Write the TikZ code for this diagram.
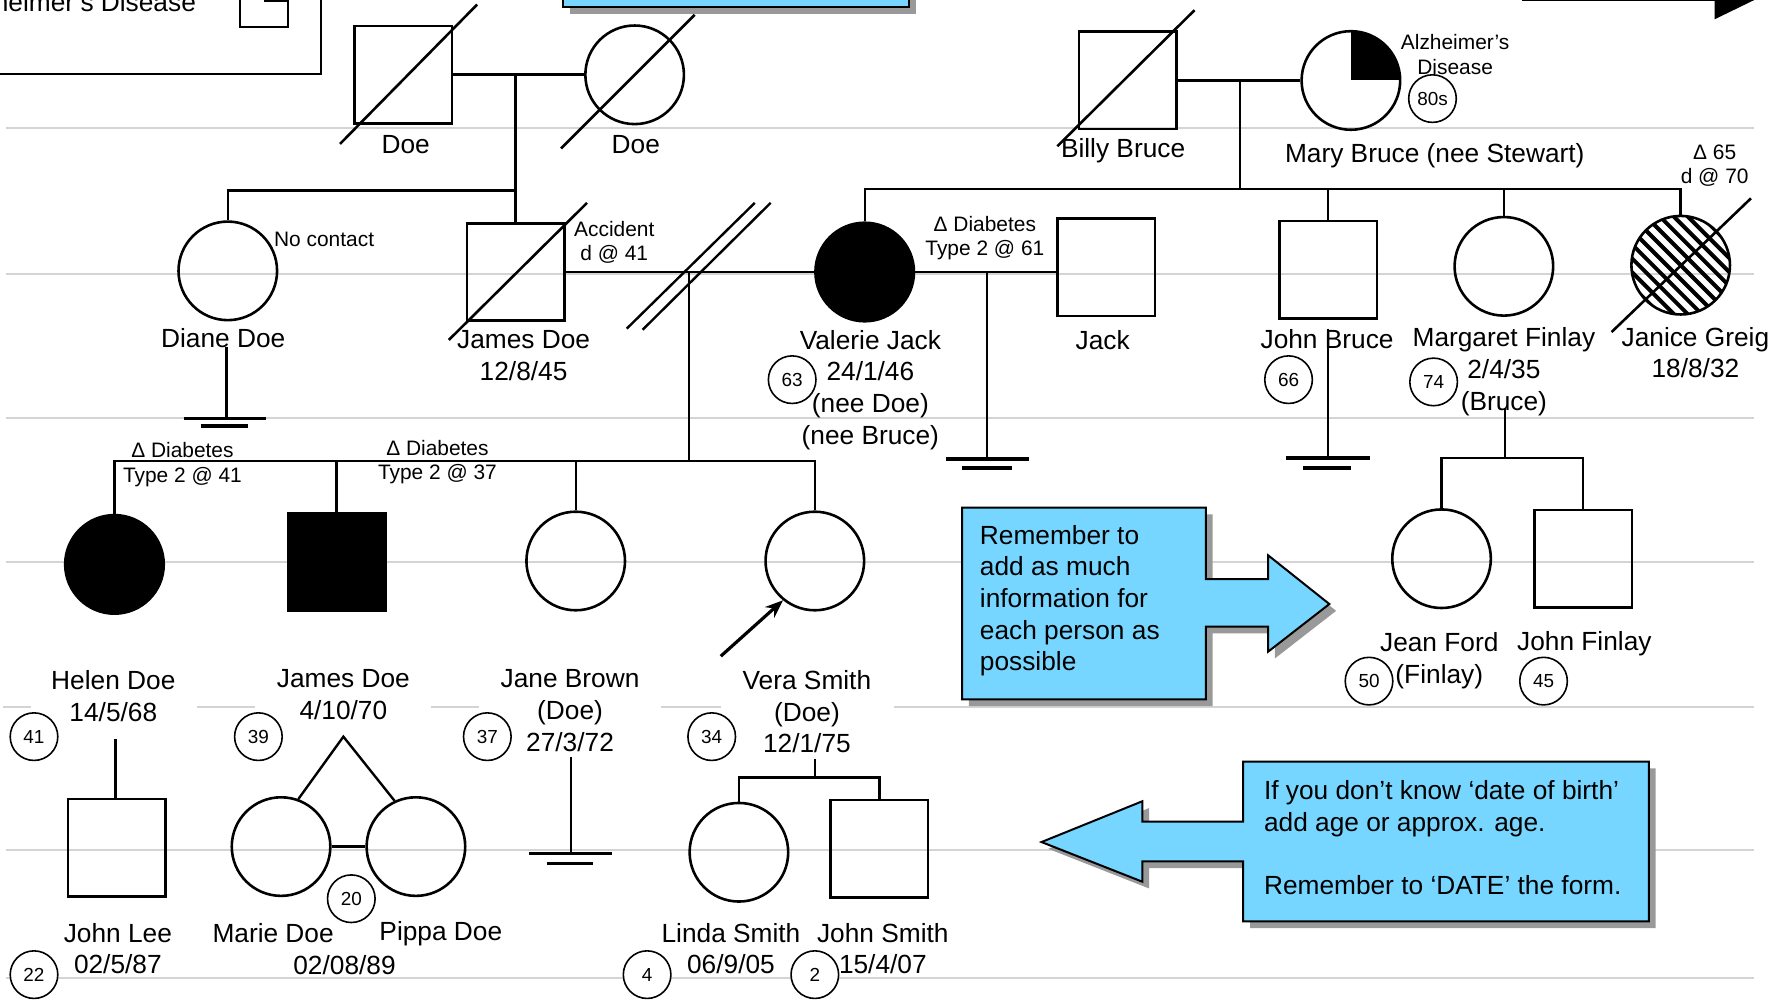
\documentclass[tikz,border=0pt]{standalone}
\usepackage{fontspec}
\setmainfont{Liberation Sans}
\usepackage{xcolor}
\usepackage{tikz}
\usetikzlibrary{arrows.meta, shadows}
\definecolor{noteblue}{HTML}{76D6FF}

\begin{document}
\begin{tikzpicture}[
    x=0.02cm, y=-0.02cm,
    person/.style={draw, line width=1.3pt, inner sep=0pt},
    male/.style={person, rectangle, minimum size=1.72cm},
    female/.style={person, circle, minimum size=1.74cm},
    affected/.style={fill=black},
    quarter/.style={path picture={\fill (path picture bounding box.center) rectangle (path picture bounding box.north east);}},
    hatched/.style={path picture={\foreach \k in {-5,...,5}
        \draw[line width=2pt] ([shift={(\k*7pt-30pt,30pt)}]path picture bounding box.center) -- ++(60pt,-60pt);}},
    age/.style={circle, draw, line width=0.8pt, fill=white, minimum size=0.84cm, inner sep=0pt, font=\fontsize{9.5}{10}\selectfont},
    pname/.style={align=center, inner sep=1pt, font=\fontsize{13.2}{15.9}\selectfont},
    remark/.style={align=center, inner sep=1pt, font=\fontsize{10.5}{12.2}\selectfont},
    note/.style={align=left, inner sep=0pt, font=\fontsize{13.2}{15.9}\selectfont},
    couple/.style={line width=1.5pt},
    link/.style={line width=1.2pt},
    dead/.style={line width=1.3pt},
    noissue/.style={line width=1.7pt},
    ruling/.style={black!17, line width=1pt},
    callout/.style={draw=black, line width=1pt, fill=noteblue, drop shadow={shadow xshift=3.4pt, shadow yshift=-3.4pt, fill=black!40, opacity=1}},
    proband/.style={-{Stealth[length=9pt, width=7pt]}, line width=1.6pt}
]
    \useasboundingbox (0,0) rectangle (1568,883);
    \clip (0,0) rectangle (1568,883);

    % background rules
    \foreach \y in {113,242,369,496,750,863}
        \draw[ruling] (5,\y) -- (1548,\y);
    \foreach \a/\b in {3/27,174/225,380/423,583/636,789/1548}
        \draw[ruling] (\a,624) -- (\b,624);

    % legend and boxes cut by the page edge
    \draw[line width=1pt] (-10,-10) rectangle (283,65);
    \node[pname, anchor=base east] (legtxt) at (175,10) {Alzheimer’s Disease};
    \node[draw, line width=1pt, minimum size=0.86cm, inner sep=0pt, quarter] (legsym) at (233,2) {};
    \draw[callout] (497,-30) rectangle (802,6);
    \draw[line width=2.4pt] (1343,-1) -- (1515,-1);
    \fill (1513,-19) -- (1550,-1) -- (1513,17) -- cycle;

    % generation I
    \node[male] (doeM) at (356,66) {};
    \node[female] (doeF) at (560,66) {};
    \draw[dead] (300,127) -- (421,4);
    \draw[dead] (495,131) -- (613,13);
    \node[pname] (doeMtxt) at (358,128) {Doe};
    \node[pname] (doeFtxt) at (561,128) {Doe};
    \coordinate (m1) at (455,66);
    \coordinate (s1) at (455,168);
    \draw[couple] (doeM) -- (doeF);
    \draw[link] (m1) -- (s1);

    \node[male] (billy) at (995,71) {};
    \node[female, quarter] (mary) at (1192,71) {};
    \draw[dead] (933,129) -- (1054,9);
    \node[pname] (billytxt) at (991,133) {Billy Bruce};
    \node[pname] (marytxt) at (1266,137) {Mary Bruce (nee Stewart)};
    \node[remark] (marynote) at (1284,48) {Alzheimer’s\\Disease};
    \node[age] (a80) at (1264,87) {80s};
    \coordinate (m2) at (1094,71);
    \coordinate (s2) at (1094,167);
    \draw[couple] (billy) -- (mary);
    \draw[link] (m2) -- (s2);

    % generation II
    \node[female] (diane) at (201,239) {};
    \node[male] (jamesD) at (455,240) {};
    \node[female, affected] (valerie) at (763,240) {};
    \node[male] (jack) at (976,236) {};
    \node[male] (johnB) at (1172,238) {};
    \node[female] (margaret) at (1327,235) {};
    \node[female, hatched] (janice) at (1483,234) {};
    \draw[dead] (396,300) -- (518,179);
    \draw[dead] (1422,293) -- (1545,175);

    \draw[link] (diane.north) |- (s1) -- (jamesD.north);
    \draw[link] (valerie.north) |- (s2) -| (janice.north);
    \draw[link] (johnB.north |- s2) -- (johnB.north);
    \draw[link] (margaret.north |- s2) -- (margaret.north);

    \draw[couple] (jamesD) -- (valerie);
    \draw[couple] (valerie.east) -- (valerie.east -| jack.west);
    \draw[link] (553,290) -- (666,179);
    \draw[link] (567,291) -- (680,179);

    \node[remark] (dianenote) at (286,211) {No contact};
    \node[remark] (jamesDnote) at (542,214) {Accident\\d @ 41};
    \node[remark] (valerienote) at (869,210) {Δ Diabetes\\Type 2 @ 61};
    \node[remark] (janicenote) at (1513,146) {Δ 65\\d @ 70};

    \node[pname] (dianetxt) at (197,298) {Diane Doe};
    \node[pname] (jamesDtxt) at (462,314) {James Doe\\12/8/45};
    \node[pname] (valerietxt) at (768,344) {Valerie Jack\\24/1/46\\(nee Doe)\\(nee Bruce)};
    \node[pname] (jacktxt) at (973,300) {Jack};
    \node[pname] (johnBtxt) at (1171,299) {John Bruce};
    \node[pname] (margarettxt) at (1327,328) {Margaret Finlay\\2/4/35\\(Bruce)};
    \node[pname] (janicetxt) at (1496,311) {Janice Greig\\18/8/32};
    \node[age] (a63) at (699,335) {63};
    \node[age] (a66) at (1137,335) {66};
    \node[age] (a74) at (1265,337) {74};

    % no children
    \coordinate (g1) at (200,369);
    \draw[link] (200,306) -- (g1);
    \draw[noissue] (162,369) -- (235,369);
    \draw[noissue] (177,376) -- (219,376);
    \coordinate (m4) at (871,240);
    \coordinate (g4) at (871,405);
    \draw[link] (m4) -- (g4);
    \draw[noissue] (835,405) -- (908,405);
    \draw[noissue] (849,413) -- (893,413);
    \coordinate (g5) at (1172,404);
    \draw[link] (1172,290) -- (g5);
    \draw[noissue] (1135,404) -- (1209,404);
    \draw[noissue] (1150,413) -- (1192,413);

    % generation III
    \node[female, affected] (helen) at (101,498) {};
    \node[male, affected] (jamesC) at (297,496) {};
    \node[female] (jane) at (508,495) {};
    \node[female] (vera) at (719,495) {};
    \node[female] (jean) at (1272,493) {};
    \node[male] (johnF) at (1397,493) {};

    \coordinate (m3) at (608,240);
    \coordinate (s3) at (608,407);
    \draw[link] (m3) -- (s3);
    \draw[link] (helen.north) |- (s3) -| (vera.north);
    \draw[link] (jamesC.north |- s3) -- (jamesC.north);
    \draw[link] (jane.north |- s3) -- (jane.north);
    \coordinate (m5) at (1328,360);
    \coordinate (s5) at (1328,404);
    \draw[link] (m5) -- (s5);
    \draw[link] (jean.north) |- (s5) -| (johnF.north);

    \node[remark] (helennote) at (161,410) {Δ Diabetes\\Type 2 @ 41};
    \node[remark] (jamesCnote) at (386,408) {Δ Diabetes\\Type 2 @ 37};

    \node[pname, fill=white] (helentxt) at (100,614) {Helen Doe\\14/5/68};
    \node[pname, fill=white] (jamesCtxt) at (303,613) {James Doe\\4/10/70};
    \node[pname, fill=white] (janetxt) at (503,627) {Jane Brown\\(Doe)\\27/3/72};
    \node[pname, fill=white] (veratxt) at (712,628) {Vera Smith\\(Doe)\\12/1/75};
    \node[pname] (jeantxt) at (1270,583) {Jean Ford\\(Finlay)};
    \node[pname] (johnFtxt) at (1398,568) {John Finlay};
    \node[age] (a41) at (30,650) {41};
    \node[age] (a39) at (228,650) {39};
    \node[age] (a37) at (430,650) {37};
    \node[age] (a34) at (628,650) {34};
    \node[age] (a50) at (1208,601) {50};
    \node[age] (a45) at (1362,601) {45};

    \coordinate (pb) at (636,579);
    \draw[proband] (pb) -- (vera.231);

    % generation IV
    \node[male] (johnL) at (103,748) {};
    \node[female] (marie) at (248,747) {};
    \node[female] (pippa) at (367,747) {};
    \node[female] (linda) at (652,752) {};
    \node[male] (johnS) at (776,749) {};

    \coordinate (hd) at (102,652);
    \draw[link] (hd) -- (hd |- johnL.north);
    \coordinate (tw) at (303,650);
    \draw[link] (marie.70) -- (tw) -- (pippa.115);
    \draw[link] (marie.east) -- (pippa.west);
    \coordinate (g6) at (504,753);
    \draw[link] (504,668) -- (g6);
    \draw[noissue] (467,753) -- (540,753);
    \draw[noissue] (483,762) -- (523,762);
    \coordinate (vk) at (719,670);
    \coordinate (s6) at (719,686);
    \draw[link] (vk) -- (s6);
    \draw[link] (linda.north) |- (s6) -| (johnS.north);

    \node[pname] (johnLtxt) at (104,837) {John Lee\\02/5/87};
    \node[pname] (marietxt) at (241,823) {Marie Doe};
    \node[pname] (pippatxt) at (389,824) {Pippa Doe};
    \node[pname] (twintxt) at (304,852) {02/08/89};
    \node[pname] (lindatxt) at (645,837) {Linda Smith\\06/9/05};
    \node[pname] (johnStxt) at (779,837) {John Smith\\15/4/07};
    \node[age] (a22) at (30,860) {22};
    \node[age] (a20) at (310,793) {20};
    \node[age] (a4) at (571,860) {4};
    \node[age] (a2) at (719,860) {2};

    % callouts
    \draw[callout] (849,448) -- (1064,448) -- (1064,511) -- (1119,511) -- (1119,490) -- (1173,533)
        -- (1119,575) -- (1119,553) -- (1064,553) -- (1064,617) -- (849,617) -- cycle;
    \node[note] (tipinfo) at (944,530) {Remember to\\add as much\\information for\\each person as\\possible};
    \draw[callout] (1097,672) -- (1455,672) -- (1455,813) -- (1097,813) -- (1097,760) -- (1008,760)
        -- (1008,778) -- (919,743) -- (1008,707) -- (1008,725) -- (1097,725) -- cycle;
    \node[note] (tipdate) at (1273,739) {If you don’t know ‘date of birth’\\add age or approx. age.\\[15.9pt]Remember to ‘DATE’ the form.};
\end{tikzpicture}
\end{document}
